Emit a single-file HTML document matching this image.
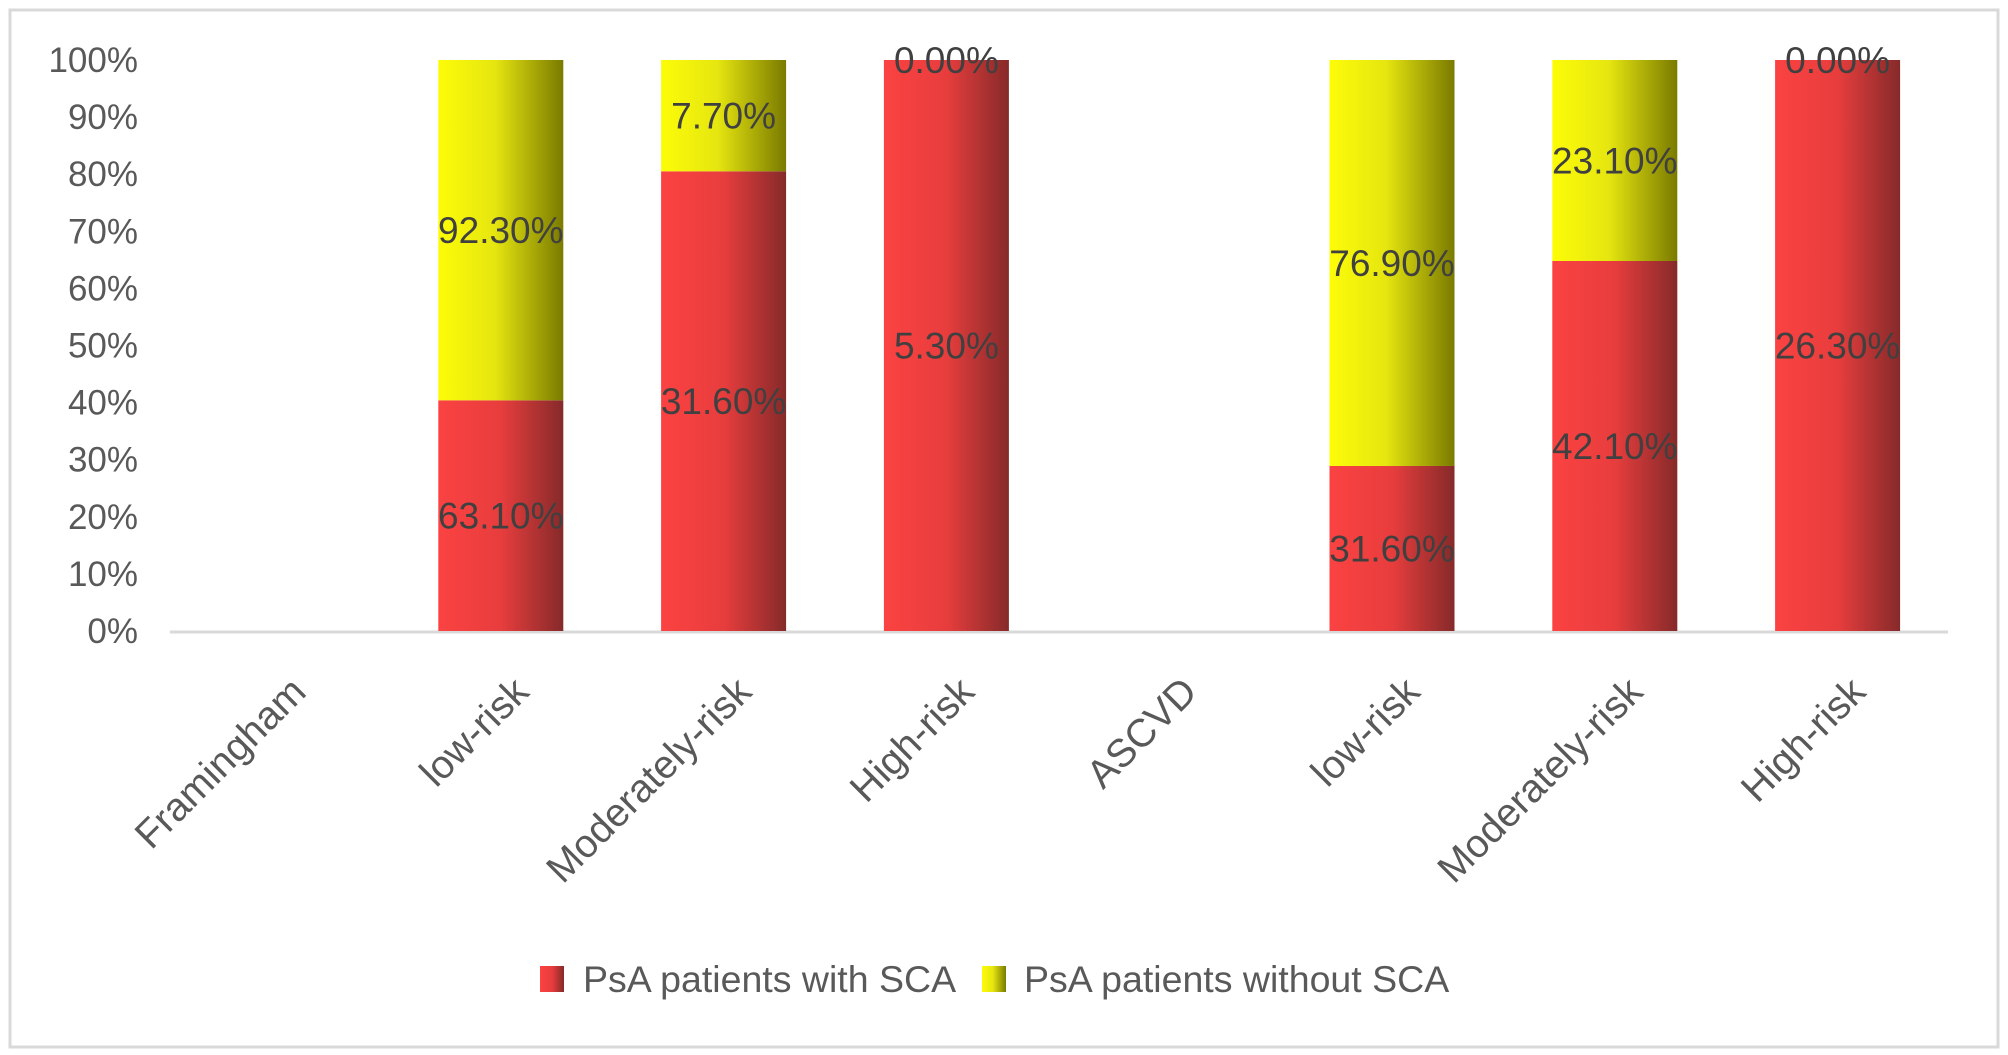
<!DOCTYPE html>
<html><head><meta charset="utf-8"><style>
html,body{margin:0;padding:0;background:#fff;}
svg{display:block;font-family:"Liberation Sans",sans-serif;}
</style></head><body>
<svg id="chart" width="2008" height="1055" viewBox="0 0 2008 1055">
<defs>
<linearGradient id="gr" x1="0" x2="1" y1="0" y2="0"><stop offset="0" stop-color="#fb4242"/><stop offset="0.5" stop-color="#e83d3d"/><stop offset="1" stop-color="#862a2a"/></linearGradient>
<linearGradient id="gy" x1="0" x2="1" y1="0" y2="0"><stop offset="0" stop-color="#fcfc08"/><stop offset="0.45" stop-color="#e6e610"/><stop offset="1" stop-color="#7a7a00"/></linearGradient>
</defs>
<rect x="10" y="10" width="1988" height="1037" fill="#fff" stroke="#d9d9d9" stroke-width="3"/>
<g id="yaxis"></g><g id="bars"></g><g id="xlabels"></g>
<g>
<rect x="540" y="966" width="24" height="26" fill="url(#gr)"/>
<text x="583" y="992" font-size="37.5" fill="#595959">PsA patients with SCA</text>
<rect x="982" y="966" width="24" height="26" fill="url(#gy)"/>
<text x="1024" y="992" font-size="37.5" fill="#595959">PsA patients without SCA</text>
</g>
</svg>
<script>
const categories=["Framingham","low-risk","Moderately-risk","High-risk","ASCVD","low-risk","Moderately-risk","High-risk"];
const withSCA=[null,40.4,80.5,100,null,28.9,64.8,100];
const withSCALabels=["","63.10%","31.60%","5.30%","","31.60%","42.10%","26.30%"];
const withoutSCALabels=["","92.30%","7.70%","0.00%","","76.90%","23.10%","0.00%"];
const yTicks=[0,10,20,30,40,50,60,70,80,90,100];
const NS="http://www.w3.org/2000/svg";
const top0=60,bot0=631,left0=170,right0=1948,step=222.8,first=278,bw=125;
function y(v){return bot0-(bot0-top0)*v/100;}
function x(i){return first+step*i;}
function mk(t,a,p){const e=document.createElementNS(NS,t);for(const k in a)e.setAttribute(k,a[k]);p.appendChild(e);return e;}
const ya=document.getElementById('yaxis');
yTicks.forEach(v=>{const t=mk('text',{x:138,y:y(v)+12,'font-size':35,fill:'#595959','text-anchor':'end'},ya);t.textContent=v+'%';

});
const al=mk('line',{x1:left0,x2:right0,y1:bot0+1,y2:bot0+1,stroke:'#d9d9d9','stroke-width':3},ya);


const bg=document.getElementById('bars');
const xl=document.getElementById('xlabels');
categories.forEach((c,i)=>{
 const cx=x(i);
 if(withSCA[i]!==null){
  const r=withSCA[i];
  const b1=mk('rect',{x:cx-bw/2,y:y(r),width:bw,height:y(0)-y(r),fill:'url(#gr)'},bg);
  
  
  const b2=mk('rect',{x:cx-bw/2,y:y(100),width:bw,height:y(r)-y(100),fill:'url(#gy)'},bg);
  
  
  const l1=mk('text',{x:cx,y:(y(0)+y(r))/2+13,'font-size':37,fill:'#404040','text-anchor':'middle'},bg);
  l1.textContent=withSCALabels[i];
  
  
  const l2=mk('text',{x:cx,y:(y(r)+y(100))/2+13,'font-size':37,fill:'#404040','text-anchor':'middle'},bg);
  l2.textContent=withoutSCALabels[i];
  
  
 }
 const ax=cx+30,ay=694;
 const t=mk('text',{x:ax,y:ay,'font-size':39.5,fill:'#595959','text-anchor':'end',transform:'rotate(-45 '+ax+' '+ay+')'},xl);
 t.textContent=c;
 
 
});
</script>
</body></html>
